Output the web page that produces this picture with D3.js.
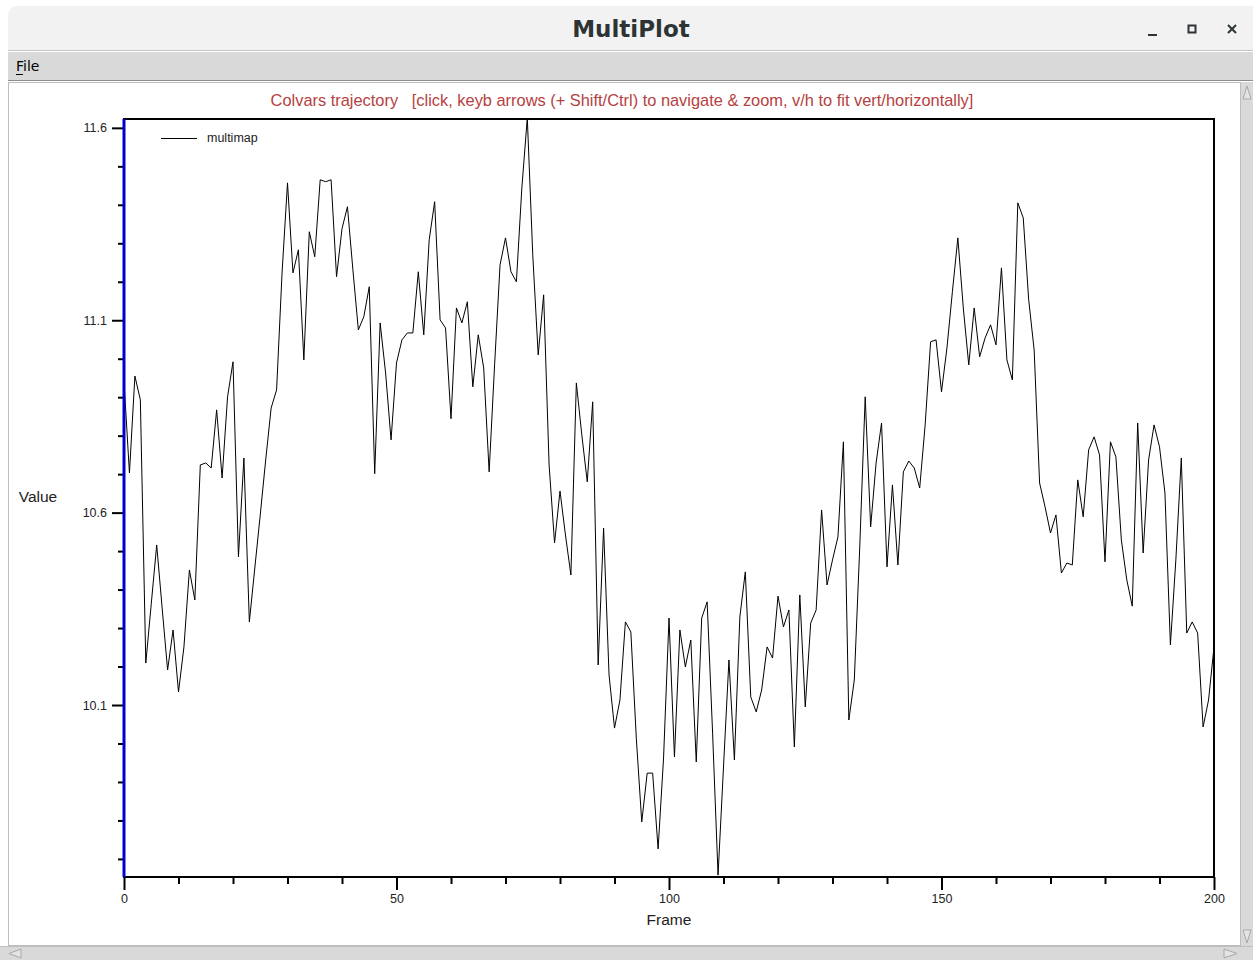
<!DOCTYPE html>
<html>
<head>
<meta charset="utf-8">
<script src="https://cdn.jsdelivr.net/npm/d3@7.9.0/dist/d3.min.js"></script>
<style>
  body { margin: 0; background: #fff; }
  svg { display: block; }
</style>
</head>
<body>
<svg id="win" width="1253" height="960"></svg>
<script>
const values = [
  10.940, 10.703, 10.955, 10.893, 10.209, 10.363, 10.516, 10.352, 10.191, 10.295,
  10.134, 10.251, 10.451, 10.373, 10.724, 10.729, 10.716, 10.867, 10.690, 10.901,
  10.992, 10.485, 10.742, 10.316, 10.456, 10.594, 10.737, 10.872, 10.919, 11.223,
  11.457, 11.223, 11.283, 10.997, 11.330, 11.265, 11.465, 11.460, 11.465, 11.213,
  11.338, 11.395, 11.231, 11.075, 11.109, 11.187, 10.701, 11.093, 10.963, 10.789,
  10.989, 11.049, 11.067, 11.067, 11.226, 11.062, 11.309, 11.408, 11.101, 11.080,
  10.844, 11.132, 11.093, 11.148, 10.927, 11.062, 10.976, 10.706, 10.984, 11.244,
  11.314, 11.226, 11.200, 11.444, 11.626, 11.270, 11.010, 11.166, 10.724, 10.521,
  10.656, 10.542, 10.438, 10.937, 10.802, 10.680, 10.888, 10.204, 10.560, 10.178,
  10.040, 10.113, 10.316, 10.290, 10.014, 9.796, 9.923, 9.923, 9.726, 9.962,
  10.326, 9.965, 10.295, 10.199, 10.269, 9.952, 10.326, 10.368, 10.027, 9.658,
  9.939, 10.217, 9.957, 10.329, 10.446, 10.121, 10.082, 10.139, 10.251, 10.222,
  10.383, 10.303, 10.347, 9.991, 10.386, 10.095, 10.313, 10.347, 10.607, 10.412,
  10.477, 10.537, 10.784, 10.061, 10.165, 10.511, 10.901, 10.563, 10.729, 10.833,
  10.459, 10.672, 10.464, 10.706, 10.734, 10.716, 10.664, 10.828, 11.044, 11.049,
  10.914, 11.028, 11.174, 11.314, 11.132, 10.984, 11.132, 11.005, 11.054, 11.088,
  11.036, 11.236, 10.997, 10.945, 11.405, 11.366, 11.153, 11.023, 10.677, 10.615,
  10.547, 10.594, 10.443, 10.469, 10.464, 10.685, 10.589, 10.763, 10.797, 10.750,
  10.472, 10.784, 10.745, 10.529, 10.425, 10.357, 10.833, 10.495, 10.737, 10.828,
  10.771, 10.651, 10.256, 10.477, 10.742, 10.287, 10.316, 10.287, 10.043, 10.113,
  10.251
];
const frames = values.map((v, i) => i);

const xMajor = [0, 50, 100, 150, 200];
const xMinor = [10, 20, 30, 40, 60, 70, 80, 90, 110, 120, 130, 140, 160, 170, 180, 190];
const yMajor = [10.1, 10.6, 11.1, 11.6];
const yMinor = [9.7, 9.8, 9.9, 10.0, 10.2, 10.3, 10.4, 10.5, 10.7, 10.8, 10.9, 11.0, 11.2, 11.3, 11.4, 11.5];

const titleText = 'Colvars trajectory   [click, keyb arrows (+ Shift/Ctrl) to navigate & zoom, v/h to fit vert/horizontally]';
const seriesName = 'multimap';

const svg = d3.select('#win');
const W = 1253, H = 960;
const plot = { left: 124, right: 1214, top: 119, bottom: 877 };
const sans = 'Liberation Sans, Arial, sans-serif';

// ---- window chrome ----
svg.append('rect').attr('x', 0).attr('y', 0).attr('width', W).attr('height', H).attr('fill', '#ffffff');
svg.append('path')
  .attr('d', `M8,${50} L8,16 Q8,6 18,6 L${W},6 L${W},50 Z`)
  .attr('fill', '#f2f2f2');
svg.append('line').attr('x1', 8).attr('x2', W).attr('y1', 50.5).attr('y2', 50.5).attr('stroke', '#c4c4c4');
svg.append('text')
  .attr('x', 631).attr('y', 37)
  .attr('text-anchor', 'middle')
  .attr('font-family', 'DejaVu Sans, sans-serif')
  .attr('font-weight', 'bold')
  .attr('font-size', 23)
  .attr('fill', '#2e3436')
  .text('MultiPlot');
// title bar buttons
svg.append('line').attr('x1', 1148).attr('x2', 1157).attr('y1', 35).attr('y2', 35).attr('stroke', '#2e3436').attr('stroke-width', 2);
svg.append('rect').attr('x', 1188.5).attr('y', 25.5).attr('width', 7).attr('height', 7).attr('fill', 'none').attr('stroke', '#2e3436').attr('stroke-width', 2);
svg.append('path').attr('d', 'M1228,25 L1236,33 M1236,25 L1228,33').attr('stroke', '#2e3436').attr('stroke-width', 2);

// menu bar
svg.append('rect').attr('x', 8).attr('y', 52).attr('width', W - 8).attr('height', 28).attr('fill', '#d9d9d9');
svg.append('line').attr('x1', 8).attr('x2', W).attr('y1', 80.5).attr('y2', 80.5).attr('stroke', '#8c8c8c');
svg.append('text')
  .attr('x', 16).attr('y', 71)
  .attr('font-family', 'DejaVu Sans, sans-serif')
  .attr('font-size', 14)
  .attr('fill', '#000')
  .text('File');
svg.append('line').attr('x1', 16).attr('x2', 23).attr('y1', 74.5).attr('y2', 74.5).attr('stroke', '#000');

// canvas border + scrollbars
svg.append('rect').attr('x', 8.5).attr('y', 82.5).attr('width', 1232).attr('height', 863).attr('fill', '#fff').attr('stroke', '#bdbdbd');
svg.append('rect').attr('x', 1241).attr('y', 82).attr('width', 12).attr('height', 864).attr('fill', '#d9d9d9');
svg.append('rect').attr('x', 0).attr('y', 947).attr('width', W).attr('height', 13).attr('fill', '#d9d9d9');
svg.append('line').attr('x1', 0).attr('x2', W).attr('y1', 946.5).attr('y2', 946.5).attr('stroke', '#bfbfbf');
const arrow = (d) => svg.append('path').attr('d', d).attr('fill', '#e4e4e4').attr('stroke', '#a8a8a8');
arrow('M1243,99 L1247,86 L1251,99 Z');
arrow('M1243,930 L1251,930 L1247,943 Z');
arrow('M21,949 L21,958 L9,953.5 Z');
arrow('M1224,949 L1224,958 L1237,953.5 Z');

// ---- plot ----
const x = d3.scaleLinear().domain([0, 200]).range([plot.left, plot.right]);
const y = d3.scaleLinear().domain([9.653, 11.623]).range([plot.bottom, plot.top]);

svg.append('text')
  .attr('x', 622).attr('y', 106)
  .attr('text-anchor', 'middle')
  .attr('font-family', sans)
  .attr('font-size', 16.4)
  .attr('fill', '#b64141')
  .attr('xml:space', 'preserve')
  .style('white-space', 'pre')
  .text(titleText);

svg.append('defs').append('clipPath').attr('id', 'clip')
  .append('rect')
  .attr('x', plot.left).attr('y', plot.top)
  .attr('width', plot.right - plot.left).attr('height', plot.bottom - plot.top);

const line = d3.line()
  .x((d, i) => x(frames[i]))
  .y((d) => y(d));

svg.append('path')
  .datum(values)
  .attr('clip-path', 'url(#clip)')
  .attr('fill', 'none')
  .attr('stroke', '#000')
  .attr('stroke-width', 1)
  .attr('d', line);

// frame
svg.append('rect')
  .attr('x', plot.left).attr('y', plot.top)
  .attr('width', plot.right - plot.left).attr('height', plot.bottom - plot.top)
  .attr('fill', 'none').attr('stroke', '#000').attr('stroke-width', 2);

// x axis
const gx = svg.append('g').attr('transform', `translate(0,${plot.bottom})`);
gx.call(d3.axisBottom(x).tickValues(xMinor).tickSize(7).tickFormat(''));
gx.call(g => g.select('.domain').remove());
const gxMaj = svg.append('g').attr('transform', `translate(0,${plot.bottom})`);
gxMaj.call(d3.axisBottom(x).tickValues(xMajor).tickSize(13).tickPadding(4).tickFormat(d3.format('d')));
gxMaj.select('.domain').remove();
svg.selectAll('g .tick line').attr('stroke-width', 2);
gxMaj.selectAll('text').attr('font-family', sans).attr('font-size', 12.5).attr('fill', '#222');

// y axis
const gy = svg.append('g').attr('transform', `translate(${plot.left},0)`);
gy.call(d3.axisLeft(y).tickValues(yMinor).tickSize(6).tickFormat(''));
gy.select('.domain').remove();
const gyMaj = svg.append('g').attr('transform', `translate(${plot.left},0)`);
gyMaj.call(d3.axisLeft(y).tickValues(yMajor).tickSize(12).tickPadding(5).tickFormat(d3.format('.1f')));
gyMaj.select('.domain').remove();
svg.selectAll('g .tick line').attr('stroke-width', 2);
gyMaj.selectAll('text').attr('font-family', sans).attr('font-size', 12.5).attr('fill', '#222');

// blue y axis line
svg.append('line')
  .attr('x1', plot.left).attr('x2', plot.left)
  .attr('y1', plot.top).attr('y2', plot.bottom)
  .attr('stroke', '#0000cc').attr('stroke-width', 3);

// axis titles
svg.append('text')
  .attr('x', 38).attr('y', 502)
  .attr('text-anchor', 'middle')
  .attr('font-family', sans).attr('font-size', 15.5).attr('fill', '#222')
  .text('Value');
svg.append('text')
  .attr('x', 669).attr('y', 925)
  .attr('text-anchor', 'middle')
  .attr('font-family', sans).attr('font-size', 15.5).attr('fill', '#222')
  .text('Frame');

// legend
svg.append('line')
  .attr('x1', 161).attr('x2', 197).attr('y1', 138.5).attr('y2', 138.5)
  .attr('stroke', '#000');
svg.append('text')
  .attr('x', 207).attr('y', 142)
  .attr('font-family', sans).attr('font-size', 12.5)
  .attr('fill', '#222')
  .text(seriesName);
</script>
</body>
</html>
